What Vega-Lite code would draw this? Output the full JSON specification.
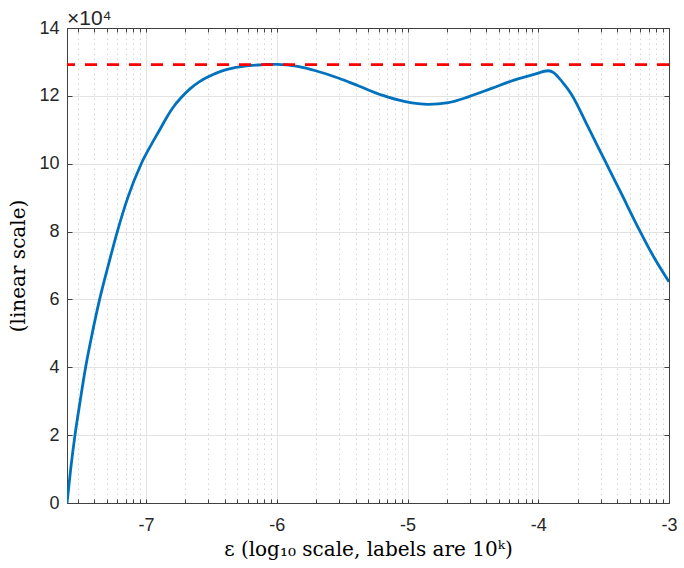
{
  "$schema": "https://vega.github.io/schema/vega-lite/v6.json",
  "width": 602,
  "height": 475,
  "autosize": {"type": "none"},
  "padding": {"left": 67, "top": 28, "right": 15, "bottom": 65},
  "background": "white",
  "title": {"text": "×10⁴", "anchor": "start", "frame": "group", "font": "Liberation Sans", "fontSize": 21, "fontWeight": "normal", "color": "#262626", "offset": 3, "dy": 13},
  "datasets": {
    "curve": [
      {"eps": 2.483e-8, "val": 0},
      {"eps": 2.649e-8, "val": 1.0},
      {"eps": 2.858e-8, "val": 2.0},
      {"eps": 3.129e-8, "val": 3.0},
      {"eps": 3.447e-8, "val": 4.0},
      {"eps": 3.873e-8, "val": 5.0},
      {"eps": 4.410e-8, "val": 6.0},
      {"eps": 5.134e-8, "val": 7.0},
      {"eps": 6.026e-8, "val": 8.0},
      {"eps": 7.244e-8, "val": 9.0},
      {"eps": 9.183e-8, "val": 10.0},
      {"eps": 1.109e-7, "val": 10.6},
      {"eps": 1.259e-7, "val": 10.97},
      {"eps": 1.429e-7, "val": 11.35},
      {"eps": 1.622e-7, "val": 11.68},
      {"eps": 1.858e-7, "val": 11.95},
      {"eps": 2.188e-7, "val": 12.22},
      {"eps": 2.564e-7, "val": 12.42},
      {"eps": 3.020e-7, "val": 12.57},
      {"eps": 3.443e-7, "val": 12.67},
      {"eps": 3.981e-7, "val": 12.76},
      {"eps": 4.603e-7, "val": 12.82},
      {"eps": 5.370e-7, "val": 12.86},
      {"eps": 6.166e-7, "val": 12.89},
      {"eps": 7.244e-7, "val": 12.91},
      {"eps": 8.279e-7, "val": 12.925},
      {"eps": 1.0e-6, "val": 12.93},
      {"eps": 1.479e-6, "val": 12.86},
      {"eps": 1.982e-6, "val": 12.74},
      {"eps": 2.985e-6, "val": 12.52},
      {"eps": 4.236e-6, "val": 12.29},
      {"eps": 6.383e-6, "val": 12.02},
      {"eps": 9.616e-6, "val": 11.83},
      {"eps": 1.445e-5, "val": 11.75},
      {"eps": 2.056e-5, "val": 11.80},
      {"eps": 2.917e-5, "val": 11.97},
      {"eps": 4.395e-5, "val": 12.22},
      {"eps": 6.622e-5, "val": 12.47},
      {"eps": 9.419e-5, "val": 12.64},
      {"eps": 1.189e-4, "val": 12.74},
      {"eps": 1.318e-4, "val": 12.68},
      {"eps": 1.416e-4, "val": 12.56},
      {"eps": 1.585e-4, "val": 12.33},
      {"eps": 1.791e-4, "val": 12.05},
      {"eps": 2.399e-4, "val": 11.09},
      {"eps": 3.214e-4, "val": 10.11},
      {"eps": 4.305e-4, "val": 9.13},
      {"eps": 5.768e-4, "val": 8.14},
      {"eps": 7.727e-4, "val": 7.22},
      {"eps": 1.0e-3, "val": 6.52}
    ],
    "bound": [{"val": 12.92}]
  },
  "layer": [
    {
      "data": {"name": "curve"},
      "mark": {"type": "line", "color": "#0072BD", "strokeWidth": 2.8, "interpolate": "monotone", "clip": true},
      "encoding": {
        "x": {
          "field": "eps", "type": "quantitative",
          "scale": {"type": "log", "domain": [2.483e-8, 1e-3], "nice": false},
          "axis": {
            "orient": "bottom",
            "title": "ε (log₁₀ scale, labels are 10ᵏ)",
            "titleFont": "DejaVu Serif", "titleFontSize": 20, "titleFontWeight": "normal", "titleColor": "#000000",
            "titleBaseline": "alphabetic", "titleY": 52,
            "values": [3e-8,4e-8,5e-8,6e-8,7e-8,8e-8,9e-8,1e-7,2e-7,3e-7,4e-7,5e-7,6e-7,7e-7,8e-7,9e-7,1e-6,2e-6,3e-6,4e-6,5e-6,6e-6,7e-6,8e-6,9e-6,1e-5,2e-5,3e-5,4e-5,5e-5,6e-5,7e-5,8e-5,9e-5,1e-4,2e-4,3e-4,4e-4,5e-4,6e-4,7e-4,8e-4,9e-4,1e-3],
            "labelExpr": "abs(log(datum.value)/LN10 - round(log(datum.value)/LN10)) < 0.001 ? '' + round(log(datum.value)/LN10) : ''",
            "labelOverlap": false, "labelFlush": false,
            "labelPadding": 17,
            "tickSize": -4,
            "grid": true,
            "gridDash": {"condition": {"test": "abs(log(datum.value)/LN10 - round(log(datum.value)/LN10)) < 0.001", "value": []}, "value": [1.5, 3.5]},
            "gridColor": {"condition": {"test": "abs(log(datum.value)/LN10 - round(log(datum.value)/LN10)) < 0.001", "value": "#e3e3e3"}, "value": "#c4c4c4"},
            "gridWidth": {"condition": {"test": "abs(log(datum.value)/LN10 - round(log(datum.value)/LN10)) < 0.001", "value": 1}, "value": 0.7}
          }
        },
        "y": {
          "field": "val", "type": "quantitative",
          "scale": {"domain": [0, 14], "nice": false},
          "axis": {
            "orient": "left",
            "title": "(linear scale)",
            "titleFont": "DejaVu Serif", "titleFontSize": 20, "titleFontWeight": "normal", "titleColor": "#000000",
            "titleBaseline": "middle", "titleX": -49,
            "values": [0, 2, 4, 6, 8, 10, 12, 14],
            "labelPadding": 13,
            "tickSize": -5,
            "grid": true, "gridColor": "#e3e3e3", "gridWidth": 1
          }
        }
      }
    },
    {
      "data": {"name": "bound"},
      "mark": {"type": "rule", "color": "#FF0000", "strokeWidth": 2.8, "strokeDash": [12, 10]},
      "encoding": {
        "y": {"field": "val", "type": "quantitative", "axis": null}
      }
    },
    {
      "data": {"name": "curve"},
      "mark": {"type": "line", "opacity": 0},
      "encoding": {
        "x": {
          "field": "eps", "type": "quantitative",
          "axis": {
            "orient": "top", "title": null, "labels": false, "grid": false, "tickSize": -4,
            "values": [3e-8,4e-8,5e-8,6e-8,7e-8,8e-8,9e-8,1e-7,2e-7,3e-7,4e-7,5e-7,6e-7,7e-7,8e-7,9e-7,1e-6,2e-6,3e-6,4e-6,5e-6,6e-6,7e-6,8e-6,9e-6,1e-5,2e-5,3e-5,4e-5,5e-5,6e-5,7e-5,8e-5,9e-5,1e-4,2e-4,3e-4,4e-4,5e-4,6e-4,7e-4,8e-4,9e-4,1e-3]
          }
        },
        "y": {
          "field": "val", "type": "quantitative",
          "axis": {"orient": "right", "title": null, "labels": false, "grid": false, "tickSize": -5, "values": [0, 2, 4, 6, 8, 10, 12, 14]}
        }
      }
    }
  ],
  "resolve": {"axis": {"x": "independent", "y": "independent"}},
  "config": {
    "view": {"stroke": null},
    "axis": {
      "domainColor": "#404040",
      "domainWidth": 1,
      "tickColor": "#404040",
      "tickWidth": 1,
      "labelFont": "Liberation Sans",
      "labelFontSize": 18,
      "labelColor": "#262626"
    }
  }
}
